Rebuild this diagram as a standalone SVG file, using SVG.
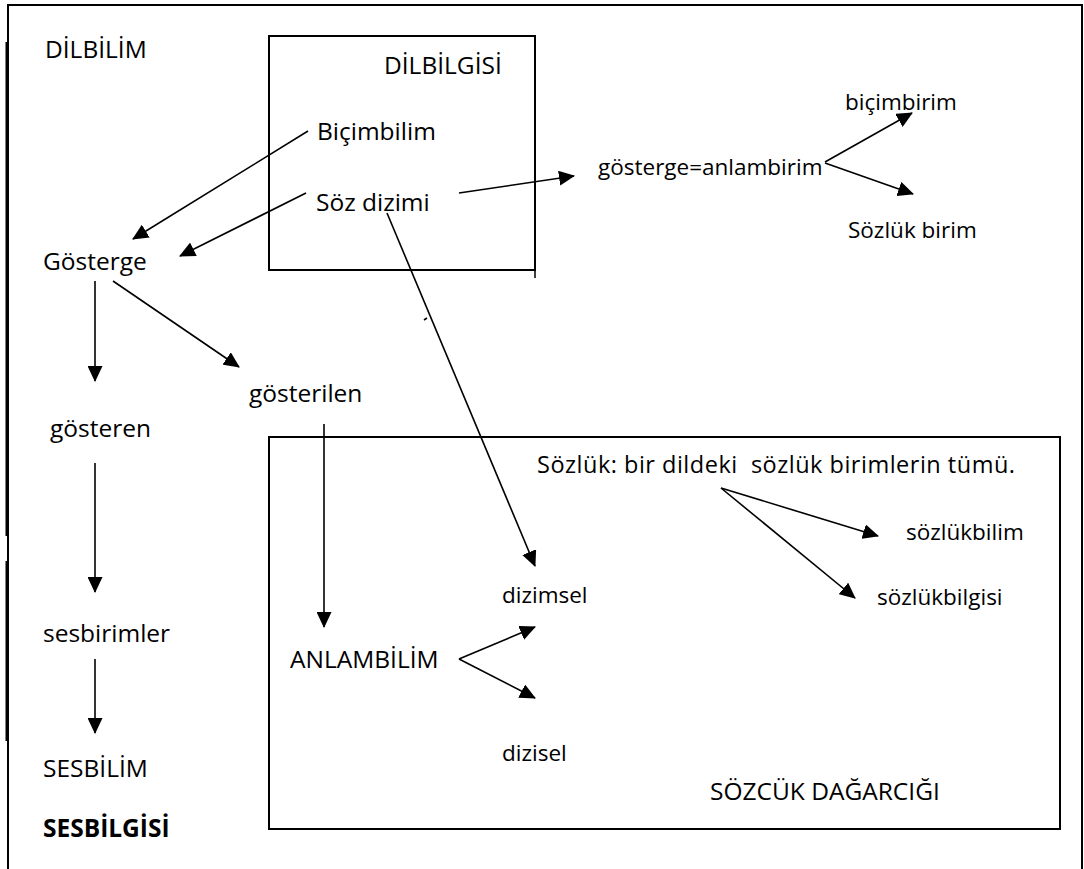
<svg xmlns="http://www.w3.org/2000/svg" width="1084" height="869" viewBox="0 0 1084 869">
<defs>
<marker id="ah" viewBox="0 0 16 15" markerWidth="16" markerHeight="15" refX="15" refY="7.5" orient="auto" markerUnits="userSpaceOnUse">
<path d="M0,0 L16,7.5 L0,15 Z" fill="#000"/>
</marker>
<style>
text{font-family:"Open Sans","Noto Sans","Liberation Sans",sans-serif;fill:#000;white-space:pre}
.L{font-size:24.5px}
.S{font-size:22.5px}
.b{font-weight:bold}
.frame{fill:none;stroke:#000;stroke-width:2}
.box{fill:none;stroke:#000;stroke-width:2}
.c line{stroke:#000;stroke-width:1.6;marker-end:url(#ah)}
</style>
</defs>
<rect width="1084" height="869" fill="#fff"/>
<g id="frame">
<path class="frame" d="M8,869 V5 H1082 V869"/>
<line x1="6.5" y1="42" x2="6.5" y2="536" stroke="#000" stroke-width="2"/>
<line x1="6.5" y1="561" x2="6.5" y2="741" stroke="#000" stroke-width="2"/>
</g>
<g id="dilbilgisi-box">
<rect class="box" x="269" y="36" width="266" height="234"/>
<line x1="535" y1="270" x2="535" y2="278" stroke="#000" stroke-width="1.5"/>
<text class="L" x="384" y="74">DİLBİLGİSİ</text>
</g>
<g id="sozcuk-box">
<rect class="box" x="269" y="437" width="791" height="392"/>
<text class="L" x="710" y="800">SÖZCÜK DAĞARCIĞI</text>
</g>
<g id="dilbilim"><text class="L" x="45" y="58">DİLBİLİM</text></g>
<g id="bicimbilim"><text class="L" x="317" y="140">Biçimbilim</text></g>
<g id="sozdizimi"><text class="L" x="316" y="211">Söz dizimi</text></g>
<g id="gosterge-anlambirim"><text class="S" x="598" y="175">gösterge=anlambirim</text></g>
<g id="bicimbirim"><text class="S" x="845" y="110">biçimbirim</text></g>
<g id="sozlukbirim"><text class="S" x="848" y="238">Sözlük birim</text></g>
<g id="gosterge"><text class="L" x="43" y="270">Gösterge</text></g>
<g id="gosterilen"><text class="L" x="249" y="402">gösterilen</text></g>
<g id="gosteren"><text class="L" x="50" y="437">gösteren</text></g>
<g id="sesbirimler"><text class="L" x="43" y="642">sesbirimler</text></g>
<g id="sesbilim"><text class="L" x="43" y="777">SESBİLİM</text></g>
<g id="sesbilgisi"><text class="L b" x="43" y="837">SESBİLGİSİ</text></g>
<g id="anlambilim"><text class="L" x="290" y="668">ANLAMBİLİM</text></g>
<g id="dizimsel"><text class="S" x="502" y="603">dizimsel</text></g>
<g id="dizisel"><text class="S" x="502" y="761">dizisel</text></g>
<g id="sozluk"><text x="537" y="473" style="font-size:23.5px" textLength="478" lengthAdjust="spacing">Sözlük: bir dildeki  sözlük birimlerin tümü.</text></g>
<g id="sozlukbilim"><text class="S" x="906" y="540">sözlükbilim</text></g>
<g id="sozlukbilgisi"><text class="S" x="877" y="605">sözlükbilgisi</text></g>
<g id="connectors" class="c">
<line x1="308" y1="131" x2="133" y2="239"/>
<line x1="306" y1="193" x2="180" y2="256"/>
<line x1="459" y1="193" x2="574" y2="176"/>
<line x1="825" y1="162" x2="912" y2="113"/>
<line x1="825" y1="163" x2="913" y2="194"/>
<line x1="387" y1="213" x2="535" y2="566"/>
<line x1="95" y1="281" x2="95" y2="381"/>
<line x1="113" y1="281" x2="239" y2="367"/>
<line x1="95" y1="463" x2="95" y2="592"/>
<line x1="95" y1="659" x2="95" y2="733"/>
<line x1="324" y1="424" x2="324" y2="627"/>
<line x1="459" y1="659" x2="535" y2="627"/>
<line x1="459" y1="659" x2="535" y2="698"/>
<line x1="721" y1="488" x2="878" y2="536"/>
<line x1="721" y1="488" x2="855" y2="598"/>
<line x1="424" y1="320" x2="427" y2="318" style="marker-end:none"/>
</g>
</svg>
